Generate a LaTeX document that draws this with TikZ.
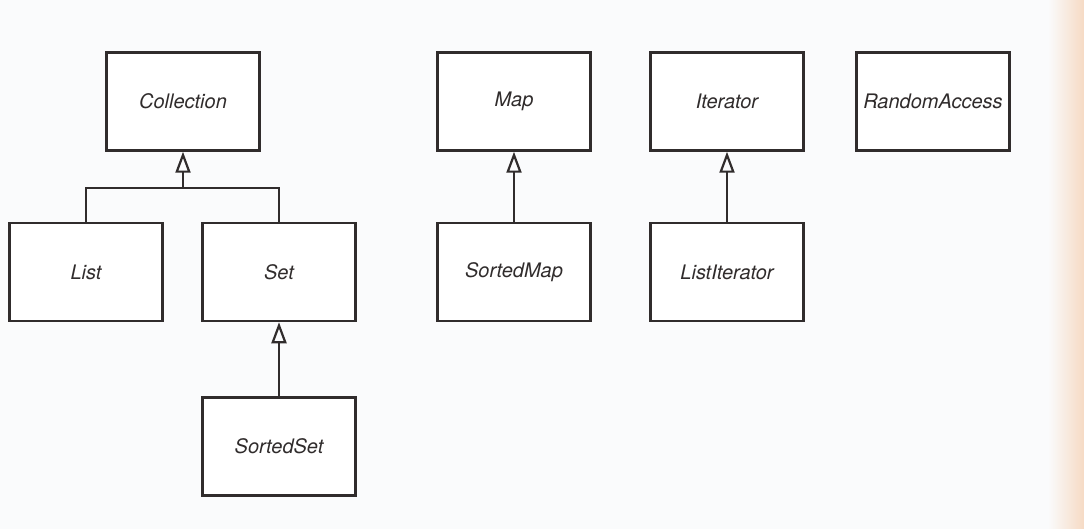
\documentclass[tikz,border=0pt]{standalone}
\usepackage{fontspec}
\setmainfont{TeX Gyre Heros}
\usetikzlibrary{arrows.meta}
\definecolor{ink}{RGB}{48,44,44}
\definecolor{paper}{RGB}{250,251,252}
\definecolor{edge}{RGB}{246,218,196}
\tikzset{
  iface/.style={draw=ink, line width=2.5pt, fill=white, minimum width=153pt,
    minimum height=98pt, inner sep=0pt, text=ink,
    font=\fontsize{20}{24}\selectfont\itshape},
  link/.style={draw=ink, line width=2.5pt},
  inherit/.style={link, -{Triangle[open, length=21pt, width=15pt, line width=2.2pt]}}
}
\begin{document}
\begin{tikzpicture}[x=1pt, y=-1pt]
  % page
  \useasboundingbox (0,0) rectangle (1084,529);
  \fill[paper] (0,0) rectangle (1084,529);
  \shade[left color=paper, right color=edge] (1048,0) rectangle (1084,529);

  % interfaces
  \node[iface] (coll) at (183,101.5) {Collection};
  \node[iface] (map)  at (514,101.5) {Map};
  \node[iface] (iter) at (727,101.5) {Iterator};
  \node[iface] (ra)   at (933,101.5) {RandomAccess};
  \node[iface] (list) at (86,272)    {List};
  \node[iface] (set)  at (279,272)   {Set};
  \node[iface] (smap) at (514,272)   {SortedMap};
  \node[iface] (lit)  at (727,272)   {ListIterator};
  \node[iface] (sset) at (279,446.5) {SortedSet};

  % inheritance
  \coordinate (join) at (coll.south |- 0,188);
  \draw[link] (list.north) |- (join) -| (set.north);
  \draw[inherit] (join) -- (coll.south);
  \draw[inherit] (smap.north) -- (map.south);
  \draw[inherit] (lit.north) -- (iter.south);
  \draw[inherit] (sset.north) -- (set.south);
\end{tikzpicture}
\end{document}
